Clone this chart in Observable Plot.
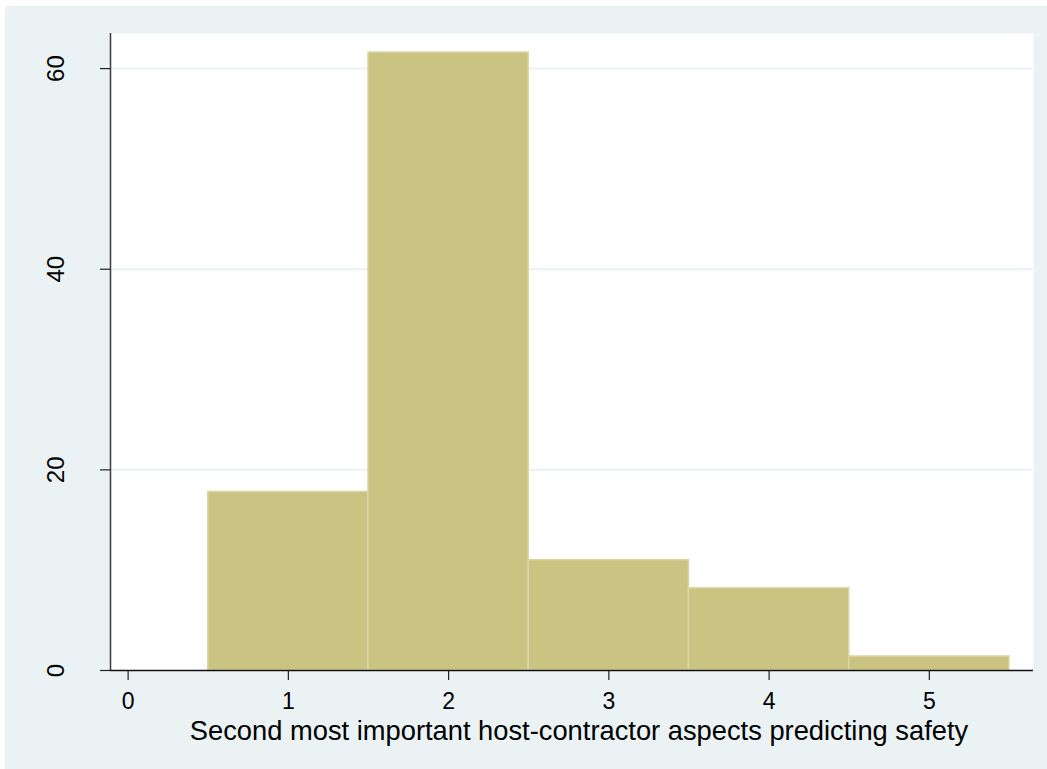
<!DOCTYPE html>
<html>
<head>
<meta charset="utf-8">
<script src="https://cdn.jsdelivr.net/npm/d3@7"></script>
<script src="https://cdn.jsdelivr.net/npm/@observablehq/plot@0.6"></script>
<style>
  html, body { margin: 0; padding: 0; background: #ffffff; }
  #chart { position: absolute; left: 5px; top: 6px; }
  #chart svg { background: #EAF2F3; font-family: "Liberation Sans", Arial, Helvetica, sans-serif; }
</style>
</head>
<body>
<div id="chart"></div>
<script>
// Data: histogram bins (percent) of category values 1..5
const binStarts = [0.5, 1.5, 2.5, 3.5, 4.5];
const binEnds   = [1.5, 2.5, 3.5, 4.5, 5.5];
const percents  = [17.8, 61.6, 11.0, 8.2, 1.4];
const xTicks = [0, 1, 2, 3, 4, 5];
const yTicks = [0, 20, 40, 60];
const yGrid = [20, 40, 60];
const xTitle = "Second most important host-contractor aspects predicting safety";

const bins = binStarts.map((s, i) => ({x1: s, x2: binEnds[i], y: percents[i]}));

const chart = Plot.plot({
  width: 1042,
  height: 763,
  marginLeft: 105,
  marginTop: 27,
  marginRight: 14,
  marginBottom: 99,
  x: {type: "linear", domain: [-0.11, 5.65], axis: null},
  y: {type: "linear", domain: [0, 63.5], axis: null},
  marks: [
    Plot.frame({fill: "white", stroke: "none"}),
    Plot.ruleY(yGrid, {stroke: "#EAF2F3", strokeWidth: 2}),
    Plot.rectY(bins, {x1: "x1", x2: "x2", y: "y", fill: "#CBC382", stroke: "#DCD6A6", strokeWidth: 1.5}),
    // axis ticks (no labels; labels drawn below)
    Plot.axisY({ticks: yTicks, tickSize: 10, tickFormat: () => "", label: null, stroke: "#222", strokeWidth: 1.2}),
    Plot.axisX({ticks: xTicks, tickSize: 10, tickFormat: () => "", label: null, stroke: "#222", strokeWidth: 1.2}),
    // y axis line
    Plot.ruleX([-0.11], {y1: 0, y2: 63.5, stroke: "#3a3a3a", strokeWidth: 1.5}),
    // x axis line
    Plot.ruleY([0], {stroke: "#111", strokeWidth: 1.5}),
    // y tick labels
    Plot.text(yTicks, {y: d => d, frameAnchor: "left", text: d => String(d), rotate: -90, dx: -54, textAnchor: "middle", lineAnchor: "middle", fontSize: 24, fill: "#000"}),
    // x tick labels
    Plot.text(xTicks, {x: d => d, frameAnchor: "bottom", text: d => String(d), dy: 38, lineAnchor: "bottom", fontSize: 23, fill: "#000"}),
    // x title
    Plot.text([xTitle], {frameAnchor: "bottom", text: d => d, dx: 7, dy: 69, lineAnchor: "bottom", fontSize: 27.3, fill: "#000"})
  ]
});

document.getElementById("chart").appendChild(chart);
</script>
</body>
</html>
